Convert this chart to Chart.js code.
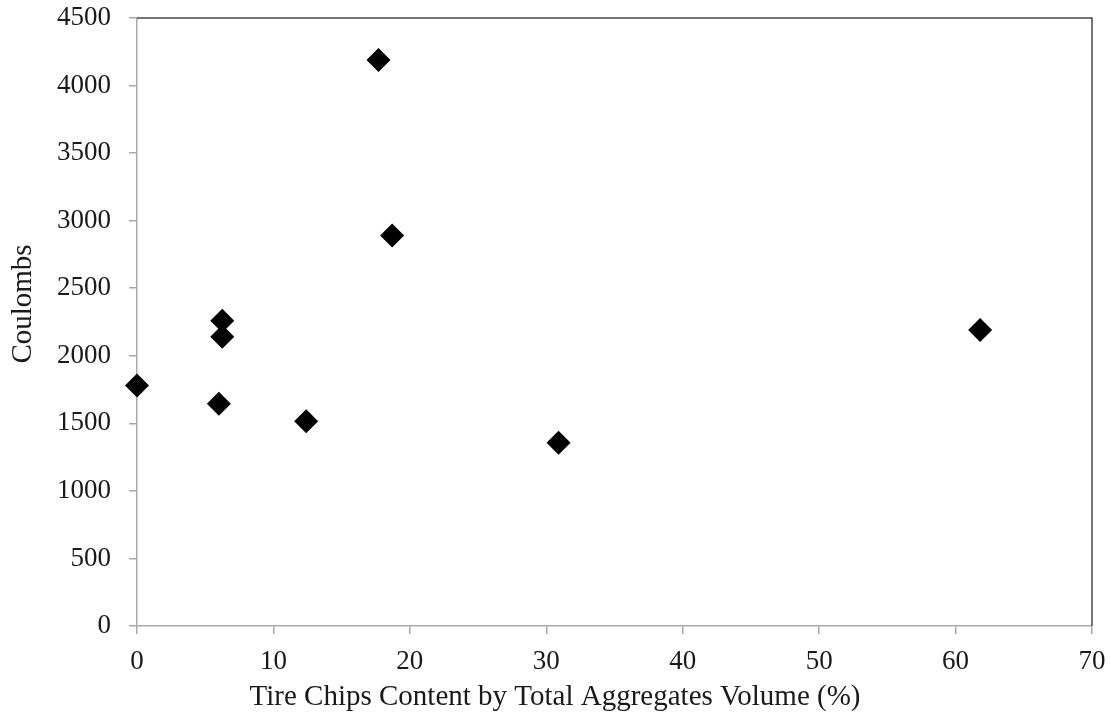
<!DOCTYPE html>
<html>
<head>
<meta charset="utf-8">
<script src="https://cdn.jsdelivr.net/npm/chart.js@4/dist/chart.umd.min.js"></script>
<style>
  html, body { margin: 0; padding: 0; background: #ffffff; }
  #wrap { width: 1111px; height: 719px; position: relative; }
</style>
</head>
<body>
<div id="wrap"><canvas id="c" width="1111" height="719"></canvas></div>
<script>
// Tire chips content (% of total aggregate volume) vs. charge passed (Coulombs)
const tireChipsContent = [0, 6.25, 6.25, 6.0, 12.4, 17.7, 18.7, 30.9, 61.8];
const coulombs = [1780, 2260, 2140, 1645, 1515, 4190, 2890, 1357, 2190];

const xTicks = [0, 10, 20, 30, 40, 50, 60, 70];
const yTicks = [0, 500, 1000, 1500, 2000, 2500, 3000, 3500, 4000, 4500];

const xTitle = 'Tire Chips Content by Total Aggregates Volume (%)';
const yTitle = 'Coulombs';

const SERIF = '"Liberation Serif", "Times New Roman", serif';
const AXIS_GREY = '#a9a9a9';

const points = tireChipsContent.map((x, i) => ({ x: x, y: coulombs[i] }));

// Frame on top/right edges of the plot plus the two axis titles
const framePlugin = {
  id: 'frame',
  afterDraw(chart) {
    const { ctx, chartArea: a } = chart;
    ctx.save();
    ctx.strokeStyle = '#4a4a4a';
    ctx.lineWidth = 1.5;
    ctx.beginPath();
    ctx.moveTo(a.left, a.top);
    ctx.lineTo(a.right, a.top);
    ctx.lineTo(a.right, a.bottom);
    ctx.stroke();

    ctx.fillStyle = '#1a1a1a';
    ctx.font = '29px ' + SERIF;
    ctx.textAlign = 'center';
    ctx.textBaseline = 'middle';
    ctx.fillText(xTitle, 555, 697);

    ctx.translate(23, 304);
    ctx.rotate(-Math.PI / 2);
    ctx.fillText(yTitle, 0, 0);
    ctx.restore();
  }
};

new Chart(document.getElementById('c'), {
  type: 'scatter',
  data: {
    datasets: [{
      data: points,
      clip: false,
      pointStyle: 'rectRot',
      pointRadius: 12,
      pointHoverRadius: 12,
      pointBorderWidth: 0,
      backgroundColor: '#000000',
      borderColor: '#000000'
    }]
  },
  options: {
    responsive: false,
    animation: false,
    events: [],
    layout: { padding: { top: 18, right: 19, left: 0, bottom: 0 } },
    plugins: {
      legend: { display: false },
      tooltip: { enabled: false }
    },
    scales: {
      x: {
        type: 'linear',
        min: 0,
        max: 70,
        afterBuildTicks(axis) { axis.ticks = xTicks.map(v => ({ value: v })); },
        afterFit(axis) {
          axis.height = 719 - 626;
          axis.paddingLeft = 0;
          axis.paddingRight = 0;
        },
        border: { display: true, color: AXIS_GREY, width: 1.5 },
        grid: { drawOnChartArea: false, drawTicks: true, tickLength: 8, color: AXIS_GREY, lineWidth: 1.5 },
        ticks: {
          padding: 12,
          color: '#1a1a1a',
          font: { family: SERIF, size: 27 },
          maxRotation: 0,
          callback: v => String(v)
        }
      },
      y: {
        type: 'linear',
        min: 0,
        max: 4500,
        afterBuildTicks(axis) { axis.ticks = yTicks.map(v => ({ value: v })); },
        afterFit(axis) {
          axis.width = 137;
          axis.paddingTop = 0;
          axis.paddingBottom = 0;
        },
        border: { display: true, color: AXIS_GREY, width: 1.5 },
        grid: { drawOnChartArea: false, drawTicks: true, tickLength: 8, color: AXIS_GREY, lineWidth: 1.5 },
        ticks: {
          padding: 18,
          color: '#1a1a1a',
          font: { family: SERIF, size: 27 },
          callback: v => String(v)
        }
      }
    }
  },
  plugins: [framePlugin]
});
</script>
</body>
</html>
